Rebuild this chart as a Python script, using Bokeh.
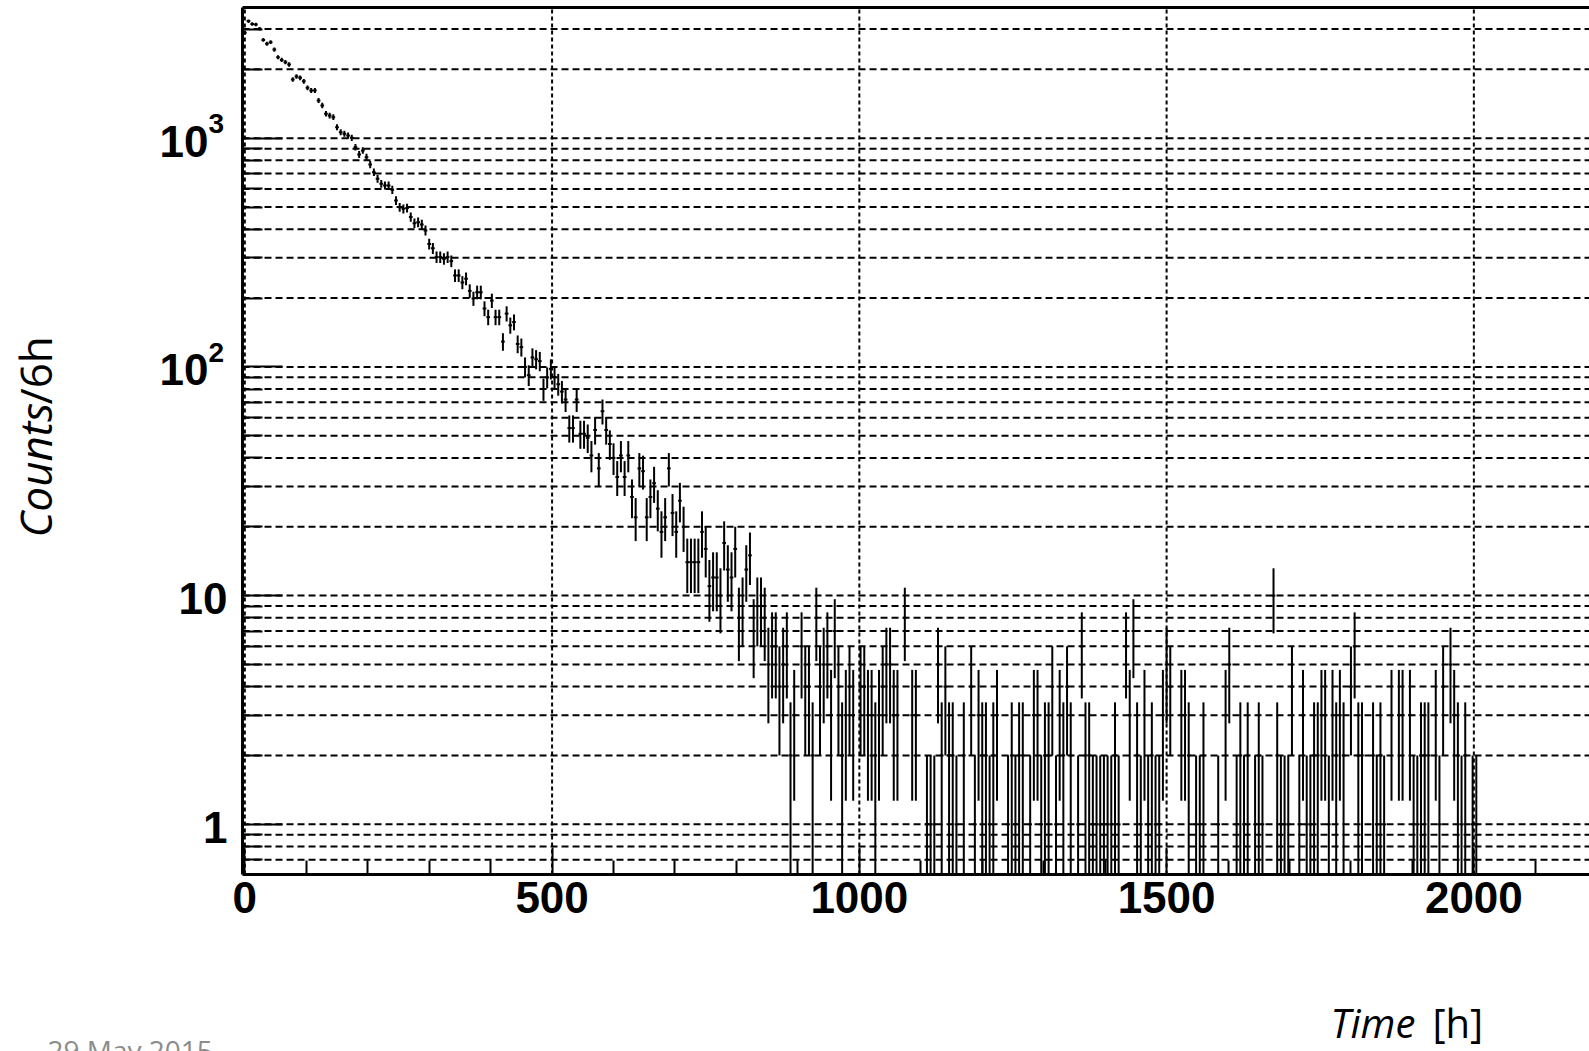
import math
from bokeh.plotting import figure
from bokeh.models import Range1d, FixedTicker, Label, ColumnDataSource, CustomJSTickFormatter
from bokeh.core.properties import value
from bokeh.embed import file_html
from bokeh.resources import INLINE

# ---------------- data ----------------
BIN_WIDTH_H = 6  # hours per bin, bin i centred at i*6 h

counts = [
    2890, 3250, 3160, 3140, 3010, 2690, 2590, 2630, 2440, 2260,
    2200, 2150, 2100, 1806, 1862, 1837, 1774, 1660, 1617, 1617,
    1462, 1390, 1279, 1256, 1236, 1117, 1062, 1046, 1028, 1004,
    914, 849, 884, 826, 767, 710, 664, 632, 621, 621,
    595, 534, 499, 491, 495, 452, 425, 429, 419, 395,
    345, 330, 302, 302, 297, 302, 290, 251, 251, 234,
    243, 215, 199, 212, 212, 180, 165, 195, 165, 165,
    129, 171, 152, 157, 126, 122, 100, 92, 110, 108,
    106, 80, 90, 98, 90, 84, 78, 72, 54, 54,
    72, 51, 51, 49, 41, 53, 36, 64, 53, 46,
    40, 33, 41, 33, 41, 27, 22, 36, 35, 22,
    27, 31, 24, 19, 22, 36, 23, 19, 26, 20,
    14, 14, 14, 14, 19, 16, 11, 12, 12, 10,
    17, 13, 12, 16, 8, 9, 13, 15, 7, 9,
    9, 8, 5, 6, 6, 4, 5, 6, 2, 3,
    0, 6, 4, 4, 2, 8, 4, 5, 6, 3,
    7, 4, 2, 3, 4, 3, 0, 4, 4, 3,
    3, 2, 3, 4, 5, 5, 3, 3, 0, 8,
    0, 3, 3, 0, 0, 1, 1, 1, 5, 2,
    4, 2, 2, 1, 0, 2, 0, 4, 1, 3,
    2, 2, 1, 2, 3, 0, 0, 1, 2, 1,
    2, 2, 0, 1, 3, 3, 1, 2, 2, 4,
    1, 3, 2, 4, 2, 0, 1, 6, 2, 2,
    1, 1, 1, 1, 1, 1, 2, 1, 0, 6,
    3, 7, 2, 1, 3, 1, 2, 1, 1, 3,
    5, 4, 0, 0, 3, 3, 2, 0, 1, 1,
    2, 0, 0, 0, 1, 0, 3, 5, 0, 1,
    2, 1, 2, 0, 1, 2, 1, 0, 0, 10,
    2, 1, 1, 1, 4, 0, 1, 3, 1, 1,
    2, 2, 3, 3, 1, 3, 2, 3, 2, 0,
    4, 6, 2, 2, 0, 0, 2, 1, 2, 1,
    0, 3, 0, 3, 3, 0, 3, 1, 1, 2,
    2, 2, 0, 3, 1, 4, 0, 5, 3, 2,
    1, 2, 0, 1, 1, 0,
]

x_ticks = [0, 500, 1000, 1500, 2000]
x_minor_ticks = [100, 200, 300, 400, 600, 700, 800, 900, 1100, 1200, 1300, 1400,
                 1600, 1700, 1800, 1900, 2100]
y_ticks = [1, 10, 100, 1000]
y_tick_base = ["1", "10", "10", "10"]
y_tick_exp = ["", "", "2", "3"]
y_minor_ticks = [0.7, 0.8, 0.9, 2, 3, 4, 5, 6, 7, 8, 9, 20, 30, 40, 50, 60, 70, 80, 90,
                 200, 300, 400, 500, 600, 700, 800, 900, 2000, 3000]

# ---------------- layout constants ----------------
W, H = 1589, 1051
# whole canvas = plot frame; the drawn "frame" is a sub-box of it
X_VIEW = (-397.6, 2188.2)          # canvas x 0 .. 1589
Y_VIEW = (0.10153, 4000.0)         # canvas y 1051 .. 0 (log)
X_FL = -3.74                        # drawn frame left  (px 242)
Y_FB, Y_FT = 0.6033, 3729.0         # drawn frame bottom (px 874) / top (px 7)
BASE_SHIFT = 0.35                   # renderer draws 'alphabetic' text ~0.35 em low

# ---------------- derived columns ----------------
t, hx0, hx1, n, lo, hi = [], [], [], [], [], []
for i, c in enumerate(counts):
    if c <= 0:
        continue
    tc = i * BIN_WIDTH_H
    e = math.sqrt(c)
    t.append(tc)
    hx0.append(tc - BIN_WIDTH_H / 2)
    hx1.append(tc + BIN_WIDTH_H / 2)
    n.append(c)
    lo.append(max(c - e, Y_FB))
    hi.append(min(c + e, Y_FT))
src = ColumnDataSource(dict(t=t, hx0=hx0, hx1=hx1, n=n, lo=lo, hi=hi))

# ---------------- figure ----------------
p = figure(width=W, height=H, x_range=Range1d(*X_VIEW), y_range=Range1d(*Y_VIEW),
           y_axis_type="log", output_backend="svg", toolbar_location=None, title=None,
           min_border=0)
p.outline_line_color = None
p.background_fill_color = "white"
p.border_fill_color = "white"
p.xgrid.visible = False
p.ygrid.visible = False

# grid lines (dashed), limited to the drawn frame
all_y_grid = sorted(y_ticks + y_minor_ticks)
p.segment(x0=x_ticks, x1=x_ticks, y0=[Y_FB] * len(x_ticks), y1=[Y_FT] * len(x_ticks),
          line_color="black", line_width=2, line_dash="4 3")
p.segment(x0=[X_FL] * len(all_y_grid), x1=[X_VIEW[1]] * len(all_y_grid),
          y0=all_y_grid, y1=all_y_grid, line_color="black", line_width=2, line_dash="7 4")

# histogram with error bars
p.segment(x0="hx0", y0="n", x1="hx1", y1="n", source=src, line_color="black", line_width=2)
p.segment(x0="t", y0="lo", x1="t", y1="hi", source=src, line_color="black", line_width=2)

# top frame line
p.segment(x0=[X_FL], x1=[X_VIEW[1]], y0=[Y_FT], y1=[Y_FT], line_color="black", line_width=3)

# axes placed at fixed locations inside the canvas
xa = p.xaxis[0]
xa.fixed_location = Y_FB
xa.bounds = (X_FL, X_VIEW[1])
xa.ticker = FixedTicker(ticks=x_ticks, minor_ticks=x_minor_ticks)
ya = p.yaxis[0]
ya.fixed_location = X_FL
ya.bounds = (Y_FB, Y_FT)
ya.ticker = FixedTicker(ticks=y_ticks, minor_ticks=y_minor_ticks)
ya.formatter = CustomJSTickFormatter(code="return ''")

for ax in (xa, ya):
    ax.axis_line_width = 3
    ax.axis_line_color = "black"
    ax.major_tick_line_width = 2
    ax.minor_tick_line_width = 2
    ax.major_tick_line_color = "black"
    ax.minor_tick_line_color = "black"
    ax.major_tick_out = 0
    ax.minor_tick_out = 0
    ax.major_label_text_font = "Liberation Sans"
    ax.major_label_text_font_style = "bold"
    ax.major_label_text_font_size = "44px"
    ax.major_label_text_color = "black"

xa.major_tick_in = 27
xa.minor_tick_in = 14
xa.major_label_standoff = 8
ya.major_tick_in = 40
ya.minor_tick_in = 20

# y tick labels: base number plus a bold superscript exponent
BASE_PX, EXP_PX = 44, 28
has_exp = [len(s) > 0 for s in y_tick_exp]
p.text(x=[X_FL] * len(y_ticks), y=y_ticks, text=y_tick_base,
       x_offset=[-34 if h else -15 for h in has_exp],
       y_offset=18.5 - BASE_SHIFT * BASE_PX,
       text_align="right", text_baseline="alphabetic",
       text_font=value("Liberation Sans"), text_font_style="bold",
       text_font_size=f"{BASE_PX}px", text_color="black")
p.text(x=[X_FL] * len(y_ticks), y=y_ticks, text=y_tick_exp,
       x_offset=-34, y_offset=-5 - BASE_SHIFT * EXP_PX,
       text_align="left", text_baseline="alphabetic",
       text_font=value("Liberation Sans"), text_font_style="bold",
       text_font_size=f"{EXP_PX}px", text_color="black")

# titles / date (screen units: frame = whole canvas, origin bottom-left)
def add_text(cx, cy, text, size_px, style="normal", angle=0.0, color="black"):
    if angle == 0.0:
        x, y = cx, H - (cy - BASE_SHIFT * size_px)
    else:  # rotated 90 deg: text "down" points to +x
        x, y = cx - BASE_SHIFT * size_px, H - cy
    p.add_layout(Label(x=x, y=y, x_units="screen", y_units="screen",
                       text=text, text_font="Open Sans", text_font_style=style,
                       text_font_size=f"{size_px}px", text_color=color, angle=angle,
                       text_align="left", text_baseline="alphabetic"))

add_text(50, 537, "Counts", 44, "italic", math.pi / 2)
add_text(50, 404, "/6h", 44, "normal", math.pi / 2)
add_text(1330, 1036, "Time", 40, "italic")
add_text(1432, 1036, "[h]", 40, "normal")
add_text(47, 1059, "29 May 2015", 28, "normal", color="#8c8c8c")

open("out.html", "w").write(file_html(p, INLINE))
